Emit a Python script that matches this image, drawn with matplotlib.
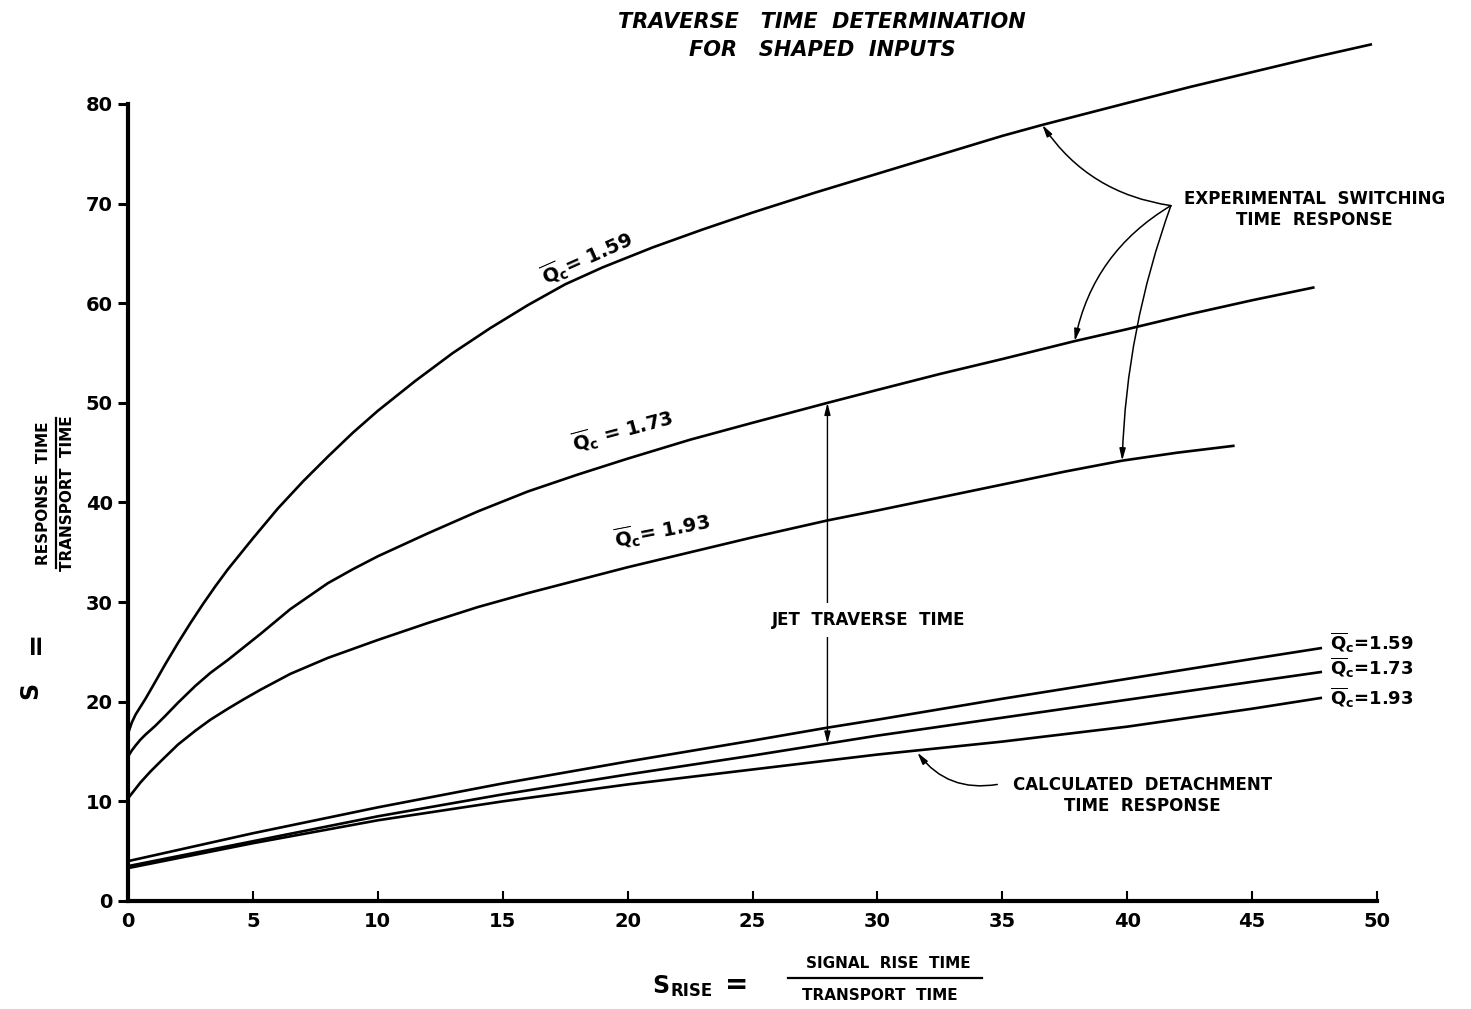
import matplotlib
matplotlib.use("Agg")
import matplotlib.pyplot as plt
from matplotlib.lines import Line2D

plt.rcParams['font.family'] = ['DejaVu Sans']
plt.rcParams['mathtext.fontset'] = 'dejavusans'

# Experimental switching time response curves (S vs S_rise)
exp_159_x = [0, 0.15, 0.3, 0.5, 0.7, 1, 1.5, 2, 2.5, 3, 3.5, 4, 5, 6, 7, 8, 9, 10, 11.5, 13,
             14.5, 16, 17.5, 19, 21, 23, 25, 27.5, 30, 32.5, 35, 36.6, 40, 42.5, 45, 47.5,
             49.8]
exp_159_y = [16.8, 17.9, 18.7, 19.5, 20.3, 21.6, 23.8, 25.9, 27.9, 29.8, 31.6, 33.3, 36.4,
             39.4, 42.1, 44.6, 47.0, 49.2, 52.2, 55.0, 57.5, 59.8, 61.9, 63.6, 65.6, 67.4,
             69.1, 71.1, 73.0, 74.9, 76.8, 77.9, 80.1, 81.7, 83.2, 84.7, 86.0]

exp_173_x = [0, 0.15, 0.3, 0.5, 0.7, 1.1, 1.5, 2, 2.7, 3.3, 4, 4.6, 5.3, 6.5, 8, 9, 10, 12,
             14, 16, 18, 20, 22.5, 25, 28, 30, 32.5, 35, 37.9, 40, 42.5, 45, 47.5]
exp_173_y = [14.5, 15.1, 15.6, 16.2, 16.7, 17.6, 18.6, 19.9, 21.6, 22.9, 24.2, 25.4, 26.8,
             29.3, 31.9, 33.3, 34.6, 36.9, 39.1, 41.1, 42.8, 44.4, 46.3, 48.0, 50.0, 51.3,
             52.9, 54.4, 56.2, 57.4, 58.9, 60.3, 61.6]

exp_193_x = [0, 0.25, 0.5, 0.9, 1.3, 2, 2.7, 3.3, 4, 4.6, 5.3, 6.5, 8, 9, 10, 12, 14, 16, 18,
             20, 22.5, 25, 28, 30, 32.5, 35, 37.5, 39.8, 42, 44.3]
exp_193_y = [10.3, 11.1, 11.9, 13.0, 14.0, 15.7, 17.1, 18.2, 19.3, 20.2, 21.2, 22.8, 24.4,
             25.3, 26.2, 27.9, 29.5, 30.9, 32.2, 33.5, 35.0, 36.5, 38.2, 39.2, 40.5, 41.8,
             43.1, 44.2, 45.0, 45.7]

# Calculated detachment time response curves
calc_x = [0, 5, 10, 15, 20, 25, 28, 30, 35, 40, 45, 47.8]
calc_159_y = [4.0, 6.8, 9.4, 11.8, 14.0, 16.1, 17.4, 18.2, 20.3, 22.3, 24.3, 25.4]
calc_173_y = [3.5, 6.0, 8.5, 10.7, 12.7, 14.6, 15.8, 16.6, 18.4, 20.2, 22.0, 23.0]
calc_193_y = [3.3, 5.8, 8.1, 10.0, 11.7, 13.2, 14.1, 14.7, 16.0, 17.5, 19.3, 20.4]

x_ticks = [0, 5, 10, 15, 20, 25, 30, 35, 40, 45, 50]
y_ticks = [0, 10, 20, 30, 40, 50, 60, 70, 80]

W, H = 1471, 1009
fig = plt.figure(figsize=(W / 100, H / 100), dpi=100)
ax = fig.add_axes([128 / W, 1 - 901 / H, (1377 - 128) / W, (901 - 104) / H])
ax.set_xlim(0, 50)
ax.set_ylim(0, 80)

lw = 1.9
for xs, ys in [(exp_159_x, exp_159_y), (exp_173_x, exp_173_y), (exp_193_x, exp_193_y),
               (calc_x, calc_159_y), (calc_x, calc_173_y), (calc_x, calc_193_y)]:
    ax.plot(xs, ys, color='black', lw=lw, clip_on=False, solid_capstyle='butt',
            solid_joinstyle='round')

# Axes styling
for s in ['top', 'right']:
    ax.spines[s].set_visible(False)
for s in ['left', 'bottom']:
    ax.spines[s].set_linewidth(3.0)
ax.set_xticks(x_ticks)
ax.set_yticks(y_ticks)
ax.set_xticklabels([str(v) for v in x_ticks], fontsize=14, fontweight='bold')
ax.set_yticklabels([str(v) for v in y_ticks], fontsize=14, fontweight='bold')
ax.tick_params(axis='x', direction='in', length=7, width=1.5, pad=8)
ax.tick_params(axis='y', direction='out', length=7, width=2.2, pad=4)

bold = dict(fontweight='bold', color='black')

# Curve labels along the experimental curves
qc = r'$\mathbf{\overline{Q}_c}$'
ax.text(18.4, 64.5, qc + '= 1.59', rotation=24, ha='center', va='center', fontsize=14, **bold)
ax.text(19.8, 47.2, qc + ' = 1.73', rotation=15, ha='center', va='center', fontsize=14, **bold)
ax.text(21.4, 37.1, qc + '= 1.93', rotation=11, ha='center', va='center', fontsize=14, **bold)

# Labels at the right ends of the calculated curves
for yv, lab in [(25.9, '=1.59'), (23.4, '=1.73'), (20.4, '=1.93')]:
    ax.text(48.1, yv, qc + lab, ha='left', va='center', fontsize=13, clip_on=False, **bold)

# Experimental switching time response annotation
ax.text(47.5, 69.4, 'EXPERIMENTAL  SWITCHING\nTIME  RESPONSE', ha='center', va='center',
        fontsize=12, linespacing=1.25, clip_on=False, **bold)
origin = (41.75, 69.8)
arrow_kw = dict(arrowstyle='-|>,head_length=0.7,head_width=0.18', color='black', lw=1.1,
                shrinkA=0, shrinkB=0)
for tip, rad in [((36.6, 77.9), -0.22), ((37.9, 56.2), 0.22), ((39.8, 44.2), 0.08)]:
    ax.annotate('', xy=tip, xytext=origin, annotation_clip=False,
                arrowprops=dict(connectionstyle=f'arc3,rad={rad}', **arrow_kw))

# Jet traverse time bracket
ax.annotate('', xy=(28, 15.8), xytext=(28, 50.0),
            arrowprops=dict(arrowstyle='<|-|>,head_length=0.7,head_width=0.18',
                            color='black', lw=1.0, shrinkA=0, shrinkB=0))
ax.text(29.65, 28.2, 'JET  TRAVERSE  TIME', ha='center', va='center', fontsize=12,
        bbox=dict(facecolor='white', edgecolor='none', pad=6), **bold)

# Calculated detachment time response annotation
ax.text(40.6, 10.6, 'CALCULATED  DETACHMENT\nTIME  RESPONSE', ha='center', va='center',
        fontsize=12, linespacing=1.25, **bold)
ax.annotate('', xy=(31.6, 14.9), xytext=(34.8, 11.7),
            arrowprops=dict(connectionstyle='arc3,rad=-0.3', **arrow_kw))

# Title
fig.text(822 / W, 1 - 22 / H, 'TRAVERSE   TIME  DETERMINATION', ha='center', va='center',
         fontsize=15, fontweight='bold', style='italic')
fig.text(822 / W, 1 - 50 / H, 'FOR   SHAPED  INPUTS', ha='center', va='center',
         fontsize=15, fontweight='bold', style='italic')

# Y axis label: S = RESPONSE TIME / TRANSPORT TIME
fig.text(30 / W, 1 - 690 / H, 'S', rotation=90, ha='center', va='center', fontsize=17,
         fontweight='bold')
fig.text(35 / W, 1 - 642 / H, '=', rotation=90, ha='center', va='center', fontsize=20,
         fontweight='bold')
fig.text(44 / W, 1 - 493 / H, 'RESPONSE  TIME', rotation=90, ha='center', va='center',
         fontsize=11, fontweight='bold')
fig.text(68 / W, 1 - 493 / H, 'TRANSPORT  TIME', rotation=90, ha='center', va='center',
         fontsize=11, fontweight='bold')
fig.add_artist(Line2D([56 / W, 56 / W], [1 - 418 / H, 1 - 568 / H], color='black', lw=1.6))

# X axis label: S_RISE = SIGNAL RISE TIME / TRANSPORT TIME
fig.text(652 / W, 1 - 986 / H, 'S', ha='left', va='center', fontsize=17, fontweight='bold')
fig.text(670 / W, 1 - 991 / H, 'RISE', ha='left', va='center', fontsize=12, fontweight='bold')
fig.text(737 / W, 1 - 985 / H, '=', ha='center', va='center', fontsize=20, fontweight='bold')
fig.text(888 / W, 1 - 964 / H, 'SIGNAL  RISE  TIME', ha='center', va='center', fontsize=11,
         fontweight='bold')
fig.text(880 / W, 1 - 996 / H, 'TRANSPORT  TIME', ha='center', va='center', fontsize=11,
         fontweight='bold')
fig.add_artist(Line2D([788 / W, 982 / W], [1 - 978 / H, 1 - 978 / H], color='black', lw=1.6))

fig.savefig('out.png', dpi=100, facecolor='white')
